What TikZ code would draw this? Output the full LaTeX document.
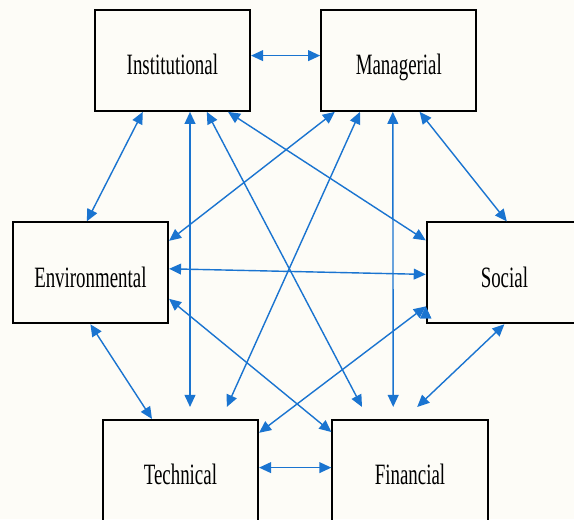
\documentclass[tikz,border=0pt]{standalone}
\usepackage{fontspec}
\setmainfont{Liberation Serif}[FakeStretch=0.64]
\usetikzlibrary{arrows.meta, positioning}
\definecolor{linkblue}{RGB}{26,116,208}
\definecolor{paper}{RGB}{253,252,247}

\begin{document}
\begin{tikzpicture}[node distance={5.66cm}, on grid,
	box/.style = {draw, line width=1.5pt, minimum width=3.88cm, minimum height=2.52cm, text height=0.72cm, text depth=0cm, font=\fontsize{21}{25}\selectfont},
	link/.style = {{Triangle[length=0.3cm,width=0.27cm]}-{Triangle[length=0.3cm,width=0.27cm]}, draw=linkblue, fill=linkblue, line width=1pt}]
	\fill[paper] (0,0) rectangle (14.35,-12.975);
	\useasboundingbox (0,0) rectangle (14.35,-12.975);
	\node[box] (inst) at (4.31,-1.51) {Institutional};
	\node[box] (man) [right=5.66cm of inst] {Managerial};
	\node[box] (env) [below left=5.31cm and 2.05cm of inst] {Environmental};
	\node[box] (soc) [below right=5.31cm and 2.64cm of man] {Social};
	\node[box] (tech) [below right=4.94cm and 2.25cm of env] {Technical};
	\node[box] (fin) [right=5.74cm of tech] {Financial};
	\path[link]
	([yshift=0.12cm]inst.east) edge ([yshift=0.12cm]man.west)
	([xshift=-0.74cm]inst.south) edge ([xshift=-0.09cm]env.north)
	([xshift=0.52cm]man.south) edge ([xshift=0.06cm]soc.north)
	(env.south) edge ([xshift=-0.71cm]tech.north)
	(soc.south) edge ([xshift=0.18cm,yshift=0.3cm]fin.north)
	([yshift=0.07cm]tech.east) edge ([yshift=0.07cm]fin.west)
	([yshift=0.1cm]env.east) edge ([yshift=-0.04cm]soc.west)
	([xshift=0.44cm]inst.south) edge ([xshift=0.24cm,yshift=0.3cm]tech.north)
	([xshift=-0.15cm]man.south) edge ([xshift=-0.42cm,yshift=0.3cm]fin.north)
	([xshift=0.86cm]inst.south) edge ([xshift=-1.2cm,yshift=0.3cm]fin.north)
	([xshift=1.39cm]inst.south) edge ([yshift=0.81cm]soc.west)
	([xshift=-1.6cm]man.south) edge ([yshift=0.8cm]env.east)
	([xshift=-0.97cm]man.south) edge ([xshift=1.16cm,yshift=0.3cm]tech.north)
	([yshift=-0.65cm]env.east) edge ([yshift=0.96cm]fin.west)
	([yshift=-0.84cm]soc.west) edge ([yshift=0.94cm]tech.east);
\end{tikzpicture}
\end{document}
